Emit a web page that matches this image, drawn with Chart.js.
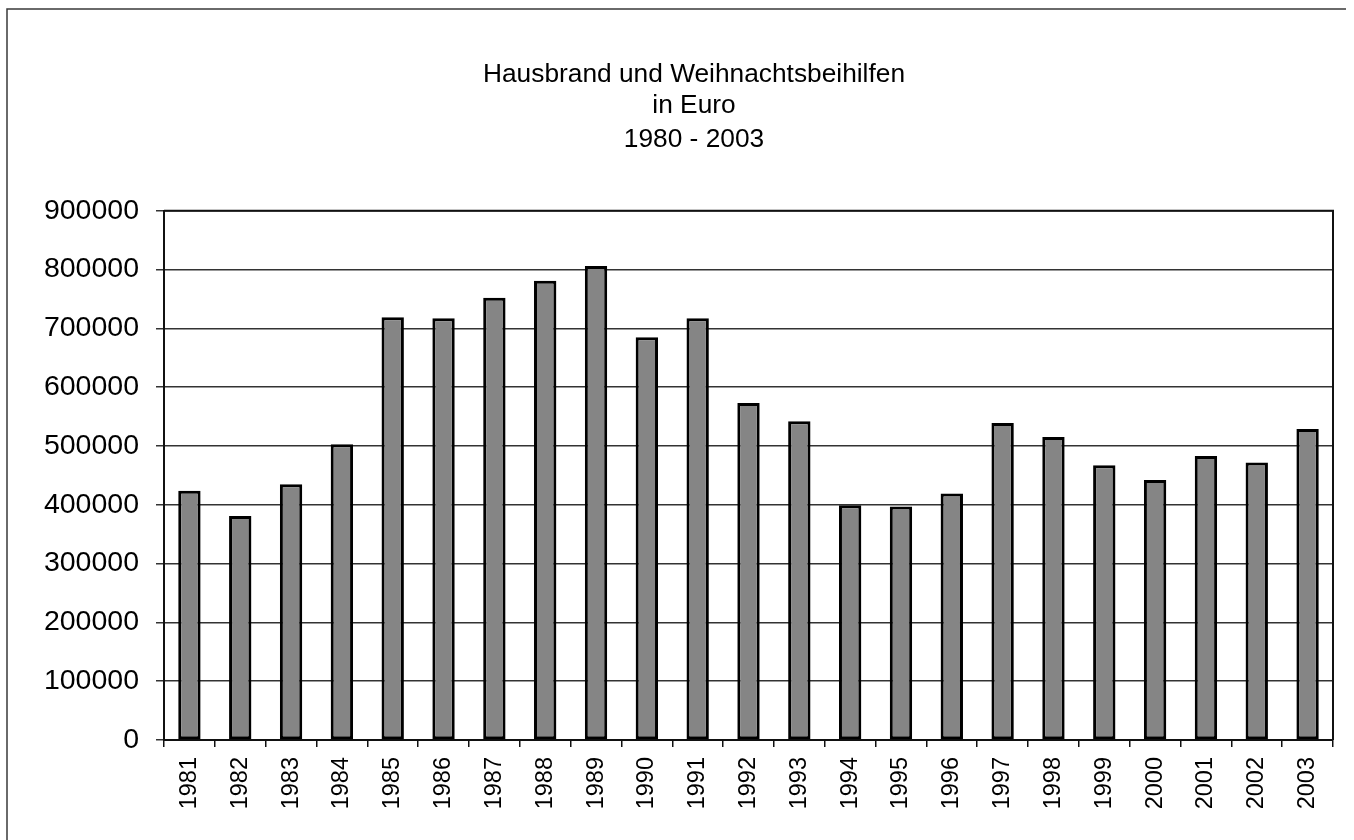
<!DOCTYPE html>
<html>
<head>
<meta charset="utf-8">
<script src="https://cdn.jsdelivr.net/npm/chart.js@4"></script>
<style>
  html, body { margin: 0; padding: 0; background: #ffffff; }
  #wrap { width: 1354px; height: 840px; }
</style>
</head>
<body>
<div id="wrap"><canvas id="c" width="1354" height="840"></canvas></div>
<script>
const titleLine = "Hausbrand und Weihnachtsbeihilfen";
const subtitleLines = ["in Euro", "1980 - 2003"];
const years = ["1981","1982","1983","1984","1985","1986","1987","1988","1989","1990","1991","1992","1993","1994","1995","1996","1997","1998","1999","2000","2001","2002","2003"];
const amounts = [424000, 381000, 435000, 503000, 719000, 717000, 752000, 781000, 806000, 685000, 717000, 573000, 542000, 399000, 397000, 419000, 539000, 515000, 467000, 442000, 483000, 472000, 529000];
const yTicks = [0, 100000, 200000, 300000, 400000, 500000, 600000, 700000, 800000, 900000];

const FONT = "'Liberation Sans', Arial, Helvetica, sans-serif";

const framePlugin = {
  id: 'frame',
  afterLayout(chart) {
    // centre the title block on x = 694 like the reference
    chart.boxes.forEach(b => {
      if (b.position === 'top' && b.fullSize) {
        b.left = 34;
        b.right = 1354;
        b.width = 1320;
      }
    });
  },
  beforeDraw(chart) {
    const ctx = chart.ctx;
    ctx.save();
    ctx.fillStyle = '#ffffff';
    ctx.fillRect(0, 0, chart.width, chart.height);
    ctx.strokeStyle = '#3a3a3a';
    ctx.lineWidth = 1.5;
    ctx.beginPath();
    ctx.moveTo(7, 840);
    ctx.lineTo(7, 9);
    ctx.lineTo(1346, 9);
    ctx.stroke();
    ctx.restore();
  },
  afterDraw(chart) {
    const a = chart.chartArea;
    const ctx = chart.ctx;
    ctx.save();
    ctx.strokeStyle = '#111111';
    ctx.lineWidth = 2;
    ctx.beginPath();
    ctx.moveTo(a.left, a.top);
    ctx.lineTo(a.right, a.top);
    ctx.lineTo(a.right, a.bottom);
    ctx.stroke();
    ctx.restore();
  }
};

new Chart(document.getElementById('c'), {
  type: 'bar',
  data: {
    labels: years,
    datasets: [{
      data: amounts,
      backgroundColor: '#858585',
      borderColor: '#000000',
      borderWidth: 3,
      borderSkipped: false,
      barPercentage: 0.44,
      categoryPercentage: 1.0
    }]
  },
  options: {
    responsive: false,
    animation: false,
    devicePixelRatio: 1,
    layout: { padding: { left: 30, right: 21, top: 0, bottom: 0 } },
    plugins: {
      legend: { display: false },
      tooltip: { enabled: false },
      title: {
        display: true,
        text: titleLine,
        color: '#000000',
        font: { family: FONT, size: 26.3, weight: 'normal', lineHeight: 1.0 },
        padding: { top: 62, bottom: 0 }
      },
      subtitle: {
        display: true,
        text: subtitleLines,
        color: '#000000',
        font: { family: FONT, size: 26.3, weight: 'normal', lineHeight: 1.3 },
        padding: { top: 0, bottom: 54 }
      }
    },
    scales: {
      x: {
        offset: true,
        grid: {
          display: true,
          drawOnChartArea: false,
          drawTicks: true,
          offset: true,
          tickLength: 7,
          color: '#111111',
          lineWidth: 1.5
        },
        border: { display: true, color: '#111111', width: 2 },
        ticks: {
          color: '#000000',
          font: { family: FONT, size: 23.5 },
          minRotation: 90,
          maxRotation: 90,
          padding: 10,
          autoSkip: false
        },
        afterFit(scale) { scale.height = 100; }
      },
      y: {
        min: 0,
        max: 900000,
        afterBuildTicks(scale) { scale.ticks = yTicks.map(v => ({ value: v })); },
        grid: {
          color: '#333333',
          lineWidth: 1.5,
          drawTicks: true,
          tickLength: 8
        },
        border: { display: true, color: '#111111', width: 2 },
        ticks: {
          color: '#000000',
          font: { family: FONT, size: 28.5 },
          padding: 17,
          callback: (v) => String(v)
        },
        afterFit(scale) { scale.width = 134; }
      }
    }
  },
  plugins: [framePlugin]
});
</script>
</body>
</html>
